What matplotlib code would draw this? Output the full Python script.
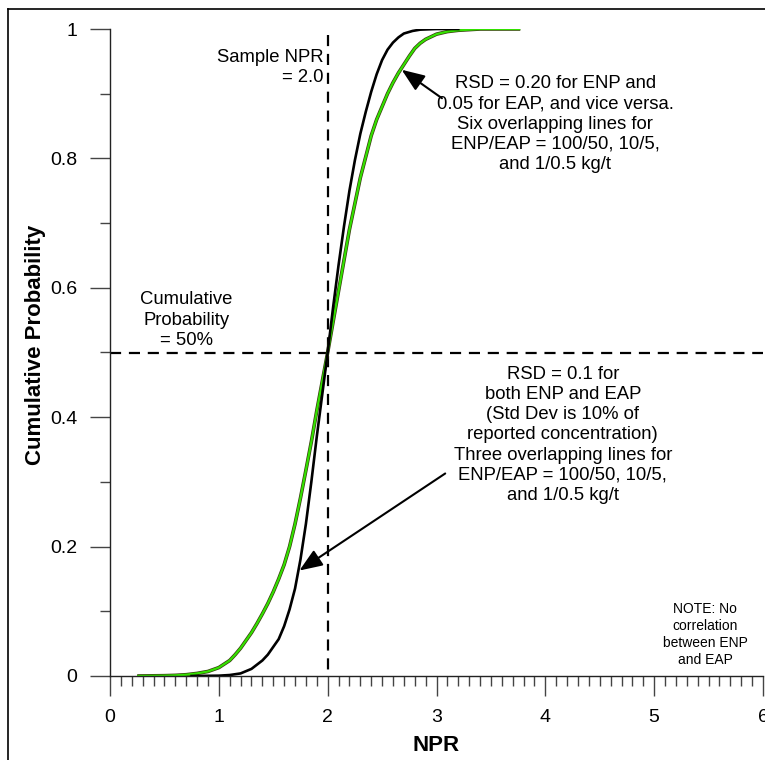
import matplotlib.pyplot as plt
import numpy as np
from matplotlib.lines import Line2D
from matplotlib.ticker import MultipleLocator, FixedLocator

plt.rcParams['font.family'] = ['Liberation Sans', 'DejaVu Sans']

# RSD = 0.1 for both ENP and EAP (black)
npr_a = [0.75, 1.0, 1.1, 1.2, 1.3, 1.4, 1.45, 1.5, 1.55, 1.6, 1.65, 1.7, 1.75,
         1.8, 1.85, 1.9, 1.95, 2.0, 2.05, 2.1, 2.15, 2.2, 2.25, 2.3, 2.35,
         2.4, 2.45, 2.5, 2.55, 2.6, 2.65, 2.7, 2.78, 2.85, 3.0, 3.2]
cum_a = [0.0, 0.0005, 0.0015, 0.004, 0.011, 0.024, 0.033, 0.045, 0.057, 0.077,
         0.103, 0.135, 0.18, 0.235, 0.30, 0.37, 0.435, 0.5, 0.57, 0.635, 0.695,
         0.75, 0.797, 0.838, 0.872, 0.903, 0.93, 0.952, 0.968, 0.979, 0.987,
         0.993, 0.997, 0.999, 1.0, 1.0]

# RSD = 0.20 / 0.05 (green)
npr_b = [0.25, 0.5, 0.6, 0.7, 0.8, 0.9, 1.0, 1.1, 1.15, 1.2, 1.25, 1.3, 1.35,
         1.4, 1.45, 1.5, 1.55, 1.6, 1.65, 1.7, 1.75, 1.8, 1.85, 1.9, 2.0, 2.1,
         2.2, 2.3, 2.4, 2.45, 2.5, 2.55, 2.6, 2.65, 2.7, 2.75, 2.8, 2.85, 2.9,
         3.0, 3.1, 3.2, 3.4, 3.77]
cum_b = [0.0, 0.0005, 0.001, 0.002, 0.004, 0.007, 0.013, 0.024, 0.033, 0.043,
         0.055, 0.067, 0.081, 0.096, 0.112, 0.13, 0.15, 0.172, 0.2, 0.235,
         0.275, 0.318, 0.362, 0.41, 0.5, 0.595, 0.69, 0.77, 0.835, 0.86, 0.88,
         0.9, 0.917, 0.932, 0.945, 0.958, 0.97, 0.978, 0.984, 0.992, 0.996,
         0.998, 1.0, 1.0]

sample_npr = 2.0
median = 0.5
x_ticks = [0, 1, 2, 3, 4, 5, 6]
y_ticks = [0, 0.2, 0.4, 0.6, 0.8, 1.0]
y_labels = ['0', '0.2', '0.4', '0.6', '0.8', '1']

fig = plt.figure(figsize=(7.65, 7.6), dpi=100)
ax = fig.add_axes([110/765, 84/760, 653/765, 647/760])

dash = (0, (5, 3.5))
# drawn top-down so the dash pattern starts at the top
ax.plot([sample_npr, sample_npr], [0.991, 0], color='black', lw=1.6, ls=dash)
ax.plot([0, 6], [median, median], color='black', lw=1.6, ls=dash, clip_on=False)

ax.plot(npr_b, cum_b, color='#3a3a10', lw=2.6, solid_capstyle='butt')
ax.plot(npr_b, cum_b, color='#33e000', lw=1.6, solid_capstyle='butt')
ax.plot(npr_a, cum_a, color='black', lw=1.9)

ax.set_xlim(0, 6)
ax.set_ylim(0, 1)
for s in ['top', 'right']:
    ax.spines[s].set_visible(False)
for s in ['left', 'bottom']:
    ax.spines[s].set_linewidth(1.0)
    ax.spines[s].set_color('#222222')

ax.xaxis.set_major_locator(FixedLocator(x_ticks))
ax.xaxis.set_minor_locator(MultipleLocator(0.1))
ax.yaxis.set_major_locator(FixedLocator(y_ticks))
ax.yaxis.set_minor_locator(MultipleLocator(0.1))
ax.set_yticklabels(y_labels)
ax.tick_params(which='major', direction='out', length=14.4, width=1.0,
               color='#444444', labelsize=14, pad=9)
ax.tick_params(which='minor', direction='out', length=7.2, width=1.0,
               color='#444444')

ax.set_xlabel('NPR', fontsize=16, fontweight='bold')
ax.set_ylabel('Cumulative Probability', fontsize=16, fontweight='bold')
ax.xaxis.label.set_va('center')
ax.xaxis.set_label_coords(0.5, -0.107)
ax.yaxis.label.set_va('center')
ax.yaxis.set_label_coords(-0.114, 0.512)

fs = 13.3
ls = 1.25
ax.text(1.96, 0.941, 'Sample NPR\n= 2.0', ha='right', va='center',
        fontsize=fs, linespacing=ls)
ax.text(0.70, 0.55, 'Cumulative\nProbability\n= 50%', ha='center',
        va='center', fontsize=fs, linespacing=ls)
ax.text(4.09, 0.853, 'RSD = 0.20 for ENP and\n0.05 for EAP, and vice versa.\n'
        'Six overlapping lines for\nENP/EAP = 100/50, 10/5,\nand 1/0.5 kg/t',
        ha='center', va='center', fontsize=fs, linespacing=ls)
ax.text(4.16, 0.3725, 'RSD = 0.1 for\nboth ENP and EAP\n(Std Dev is 10% of\n'
        'reported concentration)\nThree overlapping lines for\n'
        'ENP/EAP = 100/50, 10/5,\nand 1/0.5 kg/t',
        ha='center', va='center', fontsize=fs, linespacing=ls)
ax.text(5.47, 0.064, 'NOTE: No\ncorrelation\nbetween ENP\nand EAP',
        ha='center', va='center', fontsize=10, linespacing=1.25)

arrow = dict(arrowstyle='-|>,head_length=1.4,head_width=0.55', color='black',
             lw=1.5, shrinkA=0, shrinkB=0)
ax.annotate('', xy=(2.68, 0.937), xytext=(3.05, 0.893), arrowprops=arrow)
ax.annotate('', xy=(1.74, 0.163), xytext=(3.08, 0.313), arrowprops=arrow)

# outer frame
fig.add_artist(Line2D([8/765, 1.0], [1 - 9/760, 1 - 9/760],
                      color='black', lw=1.2, transform=fig.transFigure))
fig.add_artist(Line2D([8/765, 8/765], [0, 1 - 9/760],
                      color='black', lw=1.2, transform=fig.transFigure))

fig.savefig('out.png', dpi=100)
